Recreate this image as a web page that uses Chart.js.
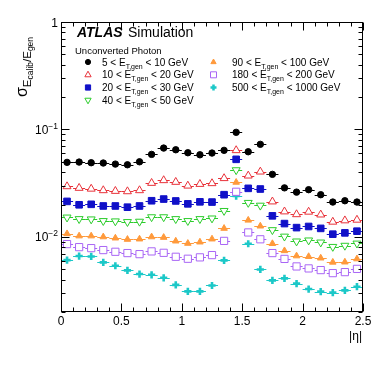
<!DOCTYPE html>
<html><head><meta charset="utf-8">
<script src="https://cdn.jsdelivr.net/npm/chart.js@4.4.1/dist/chart.umd.min.js"></script>
<style>html,body{margin:0;padding:0;background:#fff;}#wrap{width:383px;height:372px;}</style>
</head><body><div id="wrap"><canvas id="c" width="383" height="372"></canvas></div>
<script>
// ---- data ----
const etaCenters = [0.05,0.15,0.25,0.35,0.45,0.55,0.65,0.75,0.85,0.95,1.05,1.15,1.25,1.35,1.45,1.55,1.65,1.75,1.85,1.95,2.05,2.15,2.25,2.35,2.45];
const binHalfWidth = 0.05;
const ptLow  = [5, 10, 20, 40, 90, 180, 500];
const ptHigh = [10, 20, 30, 50, 100, 200, 1000];
const res5_10    = [0.0494,0.0497,0.0490,0.0487,0.0476,0.0469,0.0500,0.0586,0.0671,0.0647,0.0607,0.0581,0.0603,0.0639,0.094,0.0620,0.0727,0.0382,0.0286,0.0261,0.0275,0.0247,0.0211,0.0217,0.0211];
const res10_20   = [0.0295,0.0285,0.0280,0.0271,0.0267,0.0265,0.0271,0.0317,0.0336,0.0324,0.0299,0.0310,0.0315,0.0351,0.0639,0.0371,0.0404,0.0213,0.0172,0.0162,0.0171,0.0161,0.0138,0.0142,0.0144];
const res20_30   = [0.0214,0.0199,0.0201,0.0194,0.0194,0.0189,0.0194,0.0217,0.0225,0.0216,0.0203,0.0212,0.0211,0.0247,0.0527,0.0283,0.0279,0.0157,0.0133,0.0122,0.0125,0.0120,0.0106,0.0109,0.0113];
const res40_50   = [0.0152,0.0147,0.0146,0.0141,0.0140,0.0138,0.0139,0.0153,0.0153,0.0147,0.0141,0.0147,0.0149,0.0175,0.0419,0.0208,0.0196,0.0116,0.0101,0.0091,0.0093,0.0089,0.0081,0.0083,0.0087];
const res90_100  = [0.0107,0.0102,0.0102,0.0100,0.00975,0.00948,0.00955,0.0100,0.00989,0.00914,0.00870,0.00895,0.00955,0.0120,0.0322,0.0143,0.0126,0.00866,0.00743,0.00665,0.00656,0.00635,0.00581,0.00583,0.00624];
const res180_200 = [0.00857,0.00803,0.00786,0.00754,0.00727,0.00707,0.00691,0.00733,0.00711,0.00653,0.00626,0.00645,0.00677,0.00918,0.0263,0.0110,0.00950,0.00707,0.00624,0.00531,0.00509,0.00491,0.00460,0.00470,0.00504];
const res500_1000= [0.00608,0.00663,0.00658,0.00579,0.00539,0.00488,0.00451,0.00444,0.00416,0.00358,0.00311,0.00311,0.00353,0.00604,0.0240,0.00863,0.00498,0.00394,0.00411,0.00367,0.00327,0.00310,0.00303,0.00318,0.00344];
const xTickValues = [0, 0.5, 1, 1.5, 2, 2.5];
const xTickLabels = ["0", "0.5", "1", "1.5", "2", "2.5"];
const xMinorTicks = [0.1,0.2,0.3,0.4,0.6,0.7,0.8,0.9,1.1,1.2,1.3,1.4,1.6,1.7,1.8,1.9,2.1,2.2,2.3,2.4];
const yTickValues = [1, 0.1, 0.01];
const yTickBase = ["1", "10", "10"];
const yTickExp  = ["", "\u22121", "\u22122"];
const yMinorTicks = [0.002,0.003,0.004,0.005,0.006,0.007,0.008,0.009,0.02,0.03,0.04,0.05,0.06,0.07,0.08,0.09,0.2,0.3,0.4,0.5,0.6,0.7,0.8,0.9];

const allSeries = [res5_10, res10_20, res20_30, res40_50, res90_100, res180_200, res500_1000];
const markers = [
  {shape:'circle', color:'#000000', filled:true,  r:3.2, lr:2.6},
  {shape:'tri',    color:'#e8323a', filled:false, r:4.6, lr:3.6},
  {shape:'square', color:'#1010c8', filled:true,  r:3.3, lr:2.6},
  {shape:'tridown',color:'#2ccc2c', filled:false, r:4.6, lr:3.6},
  {shape:'tri',    color:'#ff9a3c', filled:true,  r:3.8, lr:3.0},
  {shape:'square', color:'#a966f5', filled:false, r:3.6, lr:3.0},
  {shape:'cross',  color:'#1cc8c8', filled:true,  r:3.6, lr:3.0}
];
const FONT = '"Liberation Sans", Arial, Helvetica, sans-serif';

function drawMarker(ctx, m, x, y, r) {
  ctx.save();
  ctx.beginPath();
  ctx.strokeStyle = m.color;
  ctx.fillStyle = m.filled ? m.color : '#ffffff';
  ctx.lineWidth = 1;
  if (m.shape === 'circle') {
    ctx.arc(x, y, r, 0, Math.PI * 2);
    ctx.fill(); ctx.stroke();
  } else if (m.shape === 'square') {
    ctx.rect(x - r, y - r, 2 * r, 2 * r);
    ctx.fill(); ctx.stroke();
  } else if (m.shape === 'tri' || m.shape === 'tridown') {
    const s = m.shape === 'tri' ? 1 : -1;
    ctx.moveTo(x, y - s * r);
    ctx.lineTo(x + r * 0.87, y + s * r * 0.55);
    ctx.lineTo(x - r * 0.87, y + s * r * 0.55);
    ctx.closePath();
    ctx.fill(); ctx.stroke();
  } else if (m.shape === 'cross') {
    const w = r * 0.42;
    ctx.moveTo(x - w, y - r); ctx.lineTo(x + w, y - r); ctx.lineTo(x + w, y - w);
    ctx.lineTo(x + r, y - w); ctx.lineTo(x + r, y + w); ctx.lineTo(x + w, y + w);
    ctx.lineTo(x + w, y + r); ctx.lineTo(x - w, y + r); ctx.lineTo(x - w, y + w);
    ctx.lineTo(x - r, y + w); ctx.lineTo(x - r, y - w); ctx.lineTo(x - w, y - w);
    ctx.closePath();
    ctx.fill();
  }
  ctx.restore();
}

function richText(ctx, parts, x, y, align) {
  // parts: [text, size, dy]
  let total = 0;
  parts.forEach(p => { ctx.font = p[1] + 'px ' + FONT; total += ctx.measureText(p[0]).width; });
  let cx = align === 'right' ? x - total : (align === 'center' ? x - total / 2 : x);
  parts.forEach(p => {
    ctx.font = p[1] + 'px ' + FONT;
    ctx.fillText(p[0], cx, y + p[2]);
    cx += ctx.measureText(p[0]).width;
  });
}

const decoPlugin = {
  id: 'deco',
  beforeDatasetsDraw(chart) {
    const ctx = chart.ctx, xs = chart.scales.x, ys = chart.scales.y;
    ctx.save();
    ctx.beginPath();
    ctx.rect(chart.chartArea.left, chart.chartArea.top, chart.chartArea.right - chart.chartArea.left, chart.chartArea.bottom - chart.chartArea.top);
    ctx.clip();
    allSeries.forEach((s, k) => {
      ctx.strokeStyle = markers[k].color;
      ctx.lineWidth = 1;
      s.forEach((v, i) => {
        const yp = Math.round(ys.getPixelForValue(v)) + 0.5;
        ctx.beginPath();
        ctx.moveTo(xs.getPixelForValue(etaCenters[i] - binHalfWidth), yp);
        ctx.lineTo(xs.getPixelForValue(etaCenters[i] + binHalfWidth), yp);
        ctx.stroke();
      });
    });
    ctx.restore();
  },
  afterDraw(chart) {
    const ctx = chart.ctx, xs = chart.scales.x, ys = chart.scales.y;
    const a = chart.chartArea;
    const L = a.left + 0.5, R = a.right - 0.5, T = a.top + 0.5, B = a.bottom - 0.5;
    ctx.save();
    ctx.strokeStyle = '#000'; ctx.lineWidth = 1;
    ctx.strokeRect(L, T, R - L, B - T);
    ctx.beginPath();
    const xt = (v, len) => { const p = Math.round(xs.getPixelForValue(v)) + 0.5; ctx.moveTo(p, B); ctx.lineTo(p, B - len); ctx.moveTo(p, T); ctx.lineTo(p, T + len); };
    const yt = (v, len) => { const p = Math.round(ys.getPixelForValue(v)) + 0.5; ctx.moveTo(L, p); ctx.lineTo(L + len, p); ctx.moveTo(R, p); ctx.lineTo(R - len, p); };
    xTickValues.forEach(v => xt(v, 8));
    xMinorTicks.forEach(v => xt(v, 4));
    yTickValues.forEach(v => yt(v, 8));
    yMinorTicks.forEach(v => yt(v, 4));
    ctx.stroke();

    ctx.fillStyle = '#000';
    ctx.textBaseline = 'alphabetic';
    ctx.font = '12px ' + FONT;
    ctx.textAlign = 'center';
    xTickValues.forEach((v, i) => ctx.fillText(xTickLabels[i], xs.getPixelForValue(v), 325));
    ctx.textAlign = 'left';
    yTickValues.forEach((v, i) => {
      const p = ys.getPixelForValue(v);
      richText(ctx, [[yTickBase[i], 12, 0], [yTickExp[i], 8.5, -5]], 58, p + 4.5, 'right');
    });
    // x title
    richText(ctx, [["|\u03b7|", 12, 0]], 362, 340, 'right');
    // y title
    ctx.save();
    ctx.translate(27, 97);
    ctx.rotate(-Math.PI / 2);
    richText(ctx, [["\u03c3", 16, 0], ["E", 11.5, 3.5], ["calib", 8.5, 6], ["/E", 11.5, 3.5], ["gen", 8.5, 6]], 0, 0, 'left');
    ctx.restore();

    // ATLAS label
    ctx.font = 'italic bold 14px ' + FONT;
    ctx.fillText('ATLAS', 77, 37);
    ctx.font = '14px ' + FONT;
    ctx.fillText('Simulation', 128, 37);
    ctx.font = '9.5px ' + FONT;
    ctx.fillText('Unconverted Photon', 75, 54);

    // legend
    const rows = [62, 74.8, 87.5, 100.2];
    ptLow.forEach((lo, k) => {
      const col = k < 4 ? 0 : 1;
      const row = k < 4 ? k : k - 4;
      const mx = col === 0 ? 88 : 213.5;
      const tx = col === 0 ? 102 : 232;
      const y = rows[row];
      drawMarker(ctx, markers[k], mx, y, markers[k].lr);
      ctx.fillStyle = '#000';
      richText(ctx, [[lo + ' < E', 10, 0], ['T,gen', 7, 3], [' < ' + ptHigh[k] + ' GeV', 10, 0]], tx, y + 3.5, 'left');
    });
    ctx.restore();
  }
};

const pointStyleMap = {circle:'circle', square:'rect', tri:'triangle', tridown:'triangle', cross:'cross'};
const datasets = allSeries.map((s, k) => {
  const m = markers[k];
  return {
    label: ptLow[k] + '-' + ptHigh[k],
    data: s.map((v, i) => ({x: etaCenters[i], y: v})),
    showLine: false,
    pointStyle: pointStyleMap[m.shape],
    rotation: m.shape === 'tridown' ? 180 : 0,
    pointRadius: m.shape === 'square' ? m.r * Math.SQRT2 : m.r,
    pointBorderWidth: m.shape === 'cross' ? 2.6 : 1,
    pointBackgroundColor: m.filled ? m.color : '#ffffff',
    pointBorderColor: m.color,
    pointHoverRadius: 0
  };
});

new Chart(document.getElementById('c'), {
  type: 'scatter',
  data: { datasets },
  options: {
    responsive: false,
    animation: false,
    devicePixelRatio: 1,
    layout: { padding: { left: 61, right: 20, top: 22, bottom: 60 } },
    scales: {
      x: { type: 'linear', min: 0, max: 2.5, display: false },
      y: { type: 'logarithmic', min: 0.002, max: 1, display: false }
    },
    plugins: { legend: { display: false }, tooltip: { enabled: false } }
  },
  plugins: [decoPlugin]
});
</script></body></html>
